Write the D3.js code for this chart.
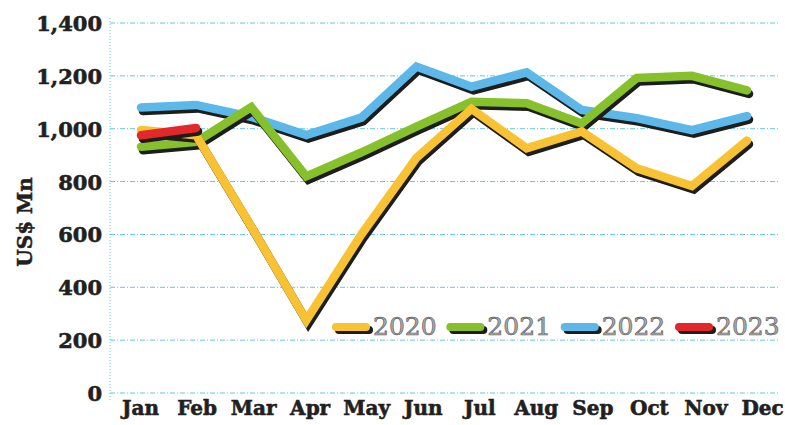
<!DOCTYPE html>
<html>
<head>
<meta charset="utf-8">
<script src="https://cdn.jsdelivr.net/npm/d3@7/dist/d3.min.js"></script>
<style>
  html, body { margin: 0; padding: 0; background: #ffffff; }
  svg { display: block; }
</style>
</head>
<body>
<svg id="chart" width="785" height="425"></svg>
<script>
// ---- data ----
const months = ["Jan","Feb","Mar","Apr","May","Jun","Jul","Aug","Sep","Oct","Nov","Dec"];
const years = ["2020","2021","2022","2023"];
const values2020 = [995, 975, 630, 275, 600, 890, 1075, 926, 990, 850, 783, 955];
const values2021 = [932, 950, 1082, 820, 910, 1008, 1102, 1096, 1020, 1192, 1200, 1145];
const values2022 = [1080, 1090, 1045, 976, 1042, 1235, 1159, 1213, 1071, 1040, 995, 1048];
const values2023 = [975, 1003];
const yTicks = [0, 200, 400, 600, 800, 1000, 1200, 1400];
const yTitle = "US$ Mn";

const seriesColors = { "2020": "#f8c232", "2021": "#86c12b", "2022": "#5bb8e8", "2023": "#e2282b" };
const seriesValues = { "2020": values2020, "2021": values2021, "2022": values2022, "2023": values2023 };
const drawOrder = ["2022", "2021", "2020", "2023"];

const svg = d3.select("#chart");

const y = d3.scaleLinear().domain([0, 1400]).range([393, 23]);
const xData = d3.scalePoint().domain(months).range([141, 747]);
const xLabel = d3.scalePoint().domain(months).range([140, 762]);

const axisLeftX = 110, gridRight = 780;

// grid lines
svg.append("g").selectAll("line").data(yTicks).join("line")
  .attr("x1", axisLeftX).attr("x2", gridRight)
  .attr("y1", d => y(d)).attr("y2", d => y(d))
  .attr("stroke", "#62c6ec").attr("stroke-width", 1)
  .attr("stroke-dasharray", "5 2 1 2");

// y axis line (dotted)
svg.append("line")
  .attr("x1", axisLeftX).attr("x2", axisLeftX)
  .attr("y1", 18).attr("y2", 402)
  .attr("stroke", "#62c6ec").attr("stroke-width", 1)
  .attr("stroke-dasharray", "1 2");

// y tick labels via axis
const yAxis = d3.axisLeft(y).tickValues(yTicks).tickFormat(d3.format(",")).tickSize(0).tickPadding(0);
const gy = svg.append("g").attr("transform", "translate(102,0)").call(yAxis);
gy.select(".domain").remove();
gy.selectAll("text")
  .attr("font-family", "'DejaVu Serif', serif")
  .attr("font-weight", "bold")
  .attr("font-size", "21px")
  .attr("fill", "#231f20").attr("stroke", "#231f20").attr("stroke-width", 0.6)
  .attr("dy", "0.36em");

// x axis labels
const xAxis = d3.axisBottom(xLabel).tickSize(0).tickPadding(0);
const gx = svg.append("g").attr("transform", "translate(0,401)").call(xAxis);
gx.select(".domain").remove();
gx.selectAll("text")
  .attr("font-family", "'DejaVu Serif', serif")
  .attr("font-weight", "bold")
  .attr("font-size", "20px")
  .attr("fill", "#231f20").attr("stroke", "#231f20").attr("stroke-width", 0.6)
  .attr("dy", "0.72em");

// y title
svg.append("text")
  .attr("transform", "translate(32,222) rotate(-90)")
  .attr("text-anchor", "middle")
  .attr("font-family", "'DejaVu Serif', serif")
  .attr("font-weight", "bold")
  .attr("font-size", "20px")
  .attr("fill", "#231f20").attr("stroke", "#231f20").attr("stroke-width", 0.5)
  .text(yTitle);

// lines
const line = d3.line().x((d, i) => xData(months[i])).y(d => y(d));
const lw = 8.5, sdx = 2, sdy = 3.5;
const linesG = svg.append("g");
drawOrder.forEach(k => {
  const vals = seriesValues[k];
  linesG.append("path").datum(vals)
    .attr("d", line)
    .attr("transform", `translate(${sdx},${sdy})`)
    .attr("fill", "none").attr("stroke", "#1d1d1b")
    .attr("stroke-width", lw).attr("stroke-linejoin", "miter").attr("stroke-linecap", "round");
  linesG.append("path").datum(vals)
    .attr("d", line)
    .attr("fill", "none").attr("stroke", seriesColors[k])
    .attr("stroke-width", lw).attr("stroke-linejoin", "miter").attr("stroke-linecap", "round");
});

// legend
const legendX = d3.scalePoint().domain(years).range([332, 675]);
const lg = svg.append("g");
years.forEach(k => {
  const x0 = legendX(k);
  lg.append("line").attr("x1", x0 + 4 + 3).attr("x2", x0 + 34 + 3)
    .attr("y1", 327 + 3).attr("y2", 327 + 3)
    .attr("stroke", "#1d1d1b").attr("stroke-width", 8).attr("stroke-linecap", "round");
  lg.append("line").attr("x1", x0 + 4).attr("x2", x0 + 34)
    .attr("y1", 327).attr("y2", 327)
    .attr("stroke", seriesColors[k]).attr("stroke-width", 8).attr("stroke-linecap", "round");
  lg.append("text")
    .attr("x", x0 + 41).attr("y", 335)
    .attr("font-family", "'DejaVu Serif', serif")
    .attr("font-size", "25px")
    .attr("fill", "#a8a8a8").attr("stroke", "#555").attr("stroke-width", 0.6)
    .text(k);
});
</script>
</body>
</html>
